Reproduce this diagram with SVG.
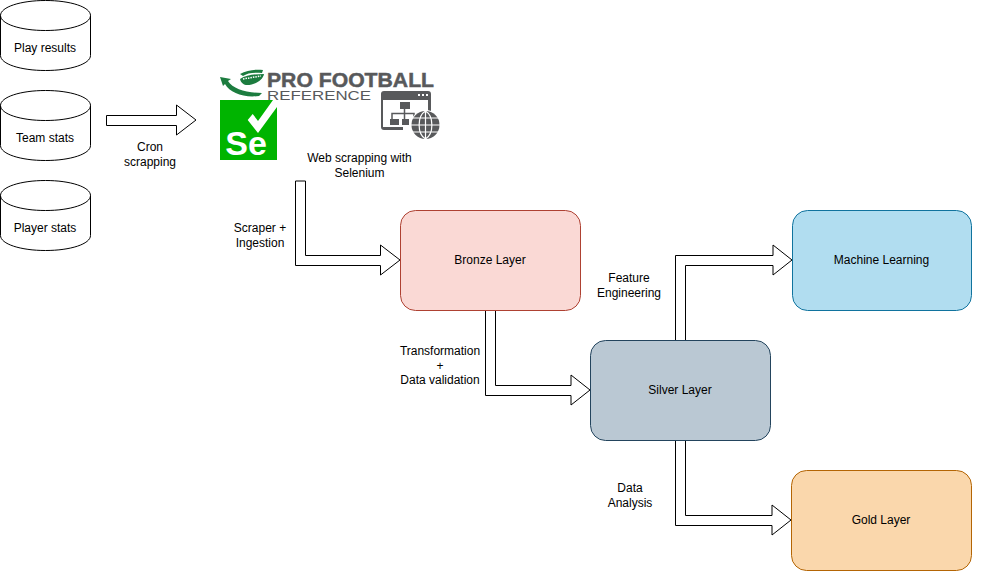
<svg xmlns="http://www.w3.org/2000/svg" width="985" height="572" viewBox="0 0 985 572">
<style>
text{font-family:"Liberation Sans",Arial,sans-serif;font-size:12px;fill:#000;text-anchor:middle}
.cyl{fill:#fff;stroke:#000;stroke-width:1}
.arrow{fill:#fff;stroke:#000;stroke-width:1;stroke-linejoin:miter}
.box{stroke-width:1}
.logo{fill:#58595b}
.grn{fill:#1c7c3f}
</style>
<defs>
<g id="cyl">
<path class="cyl" d="M0.5 15.5C0.5 7 20.5 0.5 45.5 0.5S90.5 7 90.5 15.5V55.5C90.5 64 70.5 70.5 45.5 70.5S0.5 64 0.5 55.5Z"/>
<path class="cyl" style="fill:none" d="M0.5 15.5C0.5 24 20.5 30.5 45.5 30.5S90.5 24 90.5 15.5"/>
</g>
</defs>
<g id="connectors">
<path id="c-cron" class="arrow" d="M106.500 115.500H176.500V105L196 120L176.500 135V125.500H106.500Z"/>
<path id="c-ingest" class="arrow" d="M295.500 181H305.500V255.500H380.500V245L400 260L380.500 275V265.500H295.500Z"/>
<path id="c-transform" class="arrow" d="M485.500 310.500H495.500V385.500H571V375L590 390L571 405V395.500H485.500Z"/>
<path id="c-feature" class="arrow" d="M675.500 340.500V255.500H773V245L792 260L773 275V265.500H685.500V340.500Z"/>
<path id="c-analysis" class="arrow" d="M675.500 440.500H685.500V515.500H772V505L791 520L772 535V525.500H675.500Z"/>
</g>
<g id="play-results"><use href="#cyl"/><text x="45" y="52">Play results</text></g>
<g id="team-stats"><use href="#cyl" y="90"/><text x="45" y="142">Team stats</text></g>
<g id="player-stats"><use href="#cyl" y="180"/><text x="45" y="232">Player stats</text></g>
<g id="pfr-logo">
<path class="grn" d="M240 74C247 70 256 69 263 70L262 73C254 72 247 73 243 76Z"/>
<path class="grn" d="M220 77L231 79L228 81C233 89 247 93 262 93L259 96C244 98 230 93 225 84L223 86Z"/>
<path class="grn" d="M240 79C246 75 256 74 264 74C263 80 255 85 247 85C244 85 241 83 240 79Z"/>
<path d="M243 79L261 76" stroke="#fff" stroke-width="1.500" stroke-dasharray="1.500 1" fill="none"/>
<text x="267" y="87" textLength="167" lengthAdjust="spacingAndGlyphs" style="font-size:21px;font-weight:700;text-anchor:start;fill:#58595b;stroke:#58595b;stroke-width:.5">PRO FOOTBALL</text>
<text x="267" y="99.500" textLength="104" lengthAdjust="spacingAndGlyphs" style="font-size:13px;text-anchor:start;fill:#58595b">REFERENCE</text>
</g>
<g id="selenium-logo">
<rect x="220" y="100" width="57" height="60" fill="#00b400"/>
<path d="M252.700 114L258 121L273 100H277V107L258 133L247.700 120Z" fill="#fff"/>
<text x="246" y="155" style="font-size:34px;font-weight:700;fill:#fff">Se</text>
</g>
<g id="web-icon">
<path d="M384 91H428Q431 91 431 94V112H428V100H383V127H403V130H384Q381 130 381 127V94Q381 91 384 91Z" class="logo"/>
<rect x="418" y="94" width="2" height="2" fill="#fff"/><rect x="422" y="94" width="2" height="2" fill="#fff"/><rect x="426" y="94" width="2" height="2" fill="#fff"/>
<rect x="400" y="102" width="10" height="7" class="logo"/>
<path d="M404.500 109V113M392 120V113.500H414V120M404.500 113V120" fill="none" stroke="#58595b" stroke-width="1.500"/>
<rect x="390" y="119" width="9" height="6" class="logo"/><rect x="402" y="119" width="7" height="6" class="logo"/>
<circle cx="425.500" cy="125" r="15" fill="#fff"/>
<circle cx="425.500" cy="125" r="14" class="logo"/>
<path d="M411 125H440M413 118H438M413 132H438M425.500 111V139M425.500 111C417 116 417 134 425.500 139M425.500 111C434 116 434 134 425.500 139" fill="none" stroke="#fff" stroke-width="1.200"/>
</g>
<g id="labels">
<text x="150" y="151">Cron</text><text x="150" y="166">scrapping</text>
<text x="359.500" y="162">Web scrapping with</text><text x="359.500" y="177">Selenium</text>
<text x="260" y="232">Scraper +</text><text x="260" y="247">Ingestion</text>
<text x="440" y="355">Transformation</text><text x="440" y="370">+</text><text x="440" y="384">Data validation</text>
<text x="629" y="282">Feature</text><text x="629" y="297">Engineering</text>
<text x="630" y="492">Data</text><text x="630" y="507">Analysis</text>
</g>
<g id="bronze"><rect class="box" x="400.500" y="210.500" width="180" height="100" rx="15" fill="#fad9d5" stroke="#ae4132"/><text x="490" y="264">Bronze Layer</text></g>
<g id="silver"><rect class="box" x="590.500" y="340.500" width="180" height="100" rx="15" fill="#bac8d3" stroke="#23445d"/><text x="680" y="394">Silver Layer</text></g>
<g id="ml"><rect class="box" x="792.500" y="210.500" width="179" height="100" rx="15" fill="#b1ddf0" stroke="#10739e"/><text x="881.500" y="264">Machine Learning</text></g>
<g id="gold"><rect class="box" x="791.500" y="470.500" width="180" height="100" rx="15" fill="#fad7ac" stroke="#b46504"/><text x="881" y="524">Gold Layer</text></g>
</svg>
